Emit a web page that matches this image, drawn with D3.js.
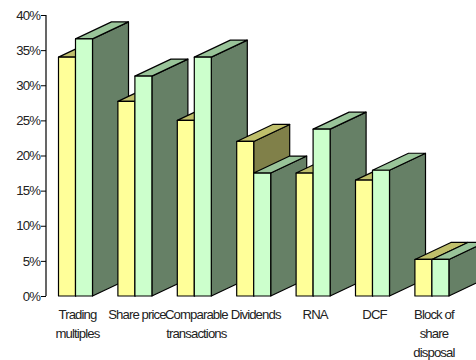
<!DOCTYPE html>
<html>
<head>
<meta charset="utf-8">
<script src="https://cdn.jsdelivr.net/npm/d3@7/dist/d3.min.js"></script>
<style>
html,body{margin:0;padding:0;background:#fff}
svg{display:block}
text{font-family:"Liberation Sans",Arial,sans-serif;font-size:13.2px;letter-spacing:-0.9px;fill:#222}
</style>
</head>
<body>
<svg id="chart" width="476" height="360"></svg>
<script>
// Valuation methods and the two series plotted for each of them
const categories = [
  ["Trading", "multiples"],
  ["Share price"],
  ["Comparable", "transactions"],
  ["Dividends"],
  ["RNA"],
  ["DCF"],
  ["Block of", "share", "disposal"]
];
const seriesA = [34.0, 27.7, 25.0, 22.0, 17.5, 16.5, 5.2];
const seriesB = [36.6, 31.3, 34.0, 17.5, 23.75, 17.9, 5.2];
const yTicks = [0, 5, 10, 15, 20, 25, 30, 35, 40];

const svg = d3.select("#chart");
const depthX = 36, depthY = 17;

const y = d3.scaleLinear().domain([0, 40]).range([296, 15]);
const x = d3.scaleBand()
  .domain(d3.range(categories.length))
  .range([58.5, 448.9])
  .paddingInner(0.4276)
  .paddingOuter(0);
const barW = x.bandwidth() / 2;

const paletteA = {front: "#ffff99", top: "#bfbf6b", side: "#808049"};
const paletteB = {front: "#ccffcc", top: "#99c499", side: "#668066"};

// Extruded box: side and top faces first, front face last
function box(g, x0, x1, value, colors) {
  const t = y(value), b = y(0);
  const face = (pts, fill) => g.append("polygon")
    .attr("points", pts.map(d => d.join(",")).join(" "))
    .attr("fill", fill)
    .attr("stroke", "#000")
    .attr("stroke-width", 1.2)
    .attr("stroke-linejoin", "round");
  face([[x1, t], [x1 + depthX, t - depthY], [x1 + depthX, b - depthY], [x1, b]], colors.side);
  face([[x0, t], [x0 + depthX, t - depthY], [x1 + depthX, t - depthY], [x1, t]], colors.top);
  face([[x0, t], [x1, t], [x1, b], [x0, b]], colors.front);
}

categories.forEach((c, i) => {
  const g = svg.append("g");
  const left = x(i);
  box(g, left, left + barW, seriesA[i], paletteA);
  box(g, left + barW, left + 2 * barW, seriesB[i], paletteB);
});

// Value axis
const axis = svg.append("g").attr("transform", "translate(46,0)")
  .call(d3.axisLeft(y).tickValues(yTicks).tickSize(5).tickPadding(1).tickFormat(d => d + "%"));
axis.selectAll("path").attr("stroke", "#000").attr("stroke-width", 1.2).attr("d", `M0,${y(40)}V${y(0)}`);
axis.selectAll("line").attr("stroke", "#000").attr("stroke-width", 1);
axis.selectAll("text").attr("font-size", null).attr("font-family", null).attr("fill", null);

// Category labels, wrapped over several lines
categories.forEach((lines, i) => {
  const cx = x(i) + x.bandwidth() / 2 + 2;
  lines.forEach((line, j) => {
    svg.append("text")
      .attr("x", cx)
      .attr("y", 318.5 + j * 19.2)
      .attr("text-anchor", "middle")
      .text(line);
  });
});
</script>
</body>
</html>
